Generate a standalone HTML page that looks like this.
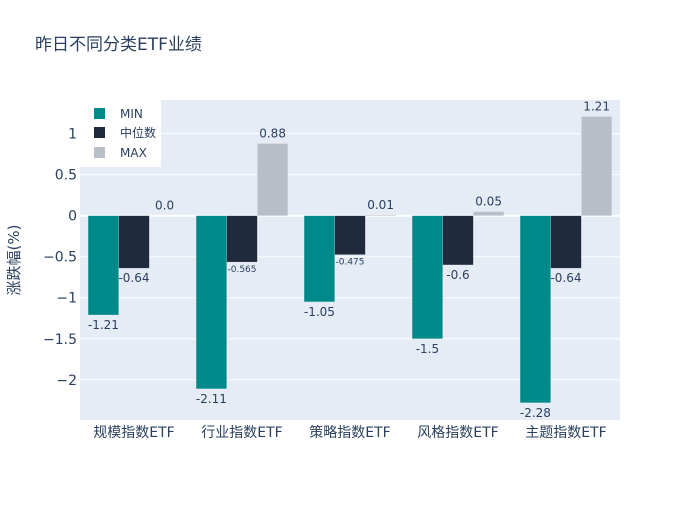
<!DOCTYPE html>
<html><head><meta charset="utf-8"><style>
body{margin:0;background:#fff;font-family:"Liberation Sans","Noto Sans CJK SC",sans-serif;}
svg text{font-family:"DejaVu Sans","Liberation Sans","Noto Sans CJK SC",sans-serif;fill:#2a3f5f;}
</style></head><body>
<svg id="c" width="700" height="500">
<text x="35" y="50" font-size="17">昨日不同分类ETF业绩</text>
<rect x="80" y="100" width="540" height="320" fill="#e5ecf6"/>
<g id="grid"></g><g id="bars"></g><g id="labels"></g>
<text transform="translate(19,260) rotate(-90)" text-anchor="middle" font-size="15">涨跌幅(%)</text>
<g>
<rect x="80" y="100" width="81" height="67" fill="#fff"/>
<rect x="94" y="108" width="11" height="11" fill="#00898a"/>
<text x="120" y="118" font-size="12">MIN</text>
<rect x="94" y="127" width="11" height="11" fill="#1f2a3c"/>
<text x="120" y="137" font-size="12">中位数</text>
<rect x="94" y="147" width="11" height="11" fill="#b8bfc8"/>
<text x="120" y="157" font-size="12">MAX</text>
</g>
</svg>
<script>
const categories=["规模指数ETF","行业指数ETF","策略指数ETF","风格指数ETF","主题指数ETF"];
const minVals=[-1.21,-2.11,-1.05,-1.5,-2.28];
const medVals=[-0.64,-0.565,-0.475,-0.6,-0.64];
const maxVals=[0.0,0.88,0.01,0.05,1.21];
const yTicks=[-2,-1.5,-1,-0.5,0,0.5,1];
const yTickLabels=["−2","−1.5","−1","−0.5","0","0.5","1"];
const seriesNames=["min","median","max"];
const seriesColors=["#00898a","#1f2a3c","#b8bfc8"];
const NS="http://www.w3.org/2000/svg";
const X0=80,W=540,Y0=100,H=320,yMin=-2.49,yMax=1.41;
const y=v=>Y0+(yMax-v)/(yMax-yMin)*H;
const band=W/categories.length;
const xc=i=>X0+band*(i+0.5);
function mk(t,a,p){const e=document.createElementNS(NS,t);for(const k in a)e.setAttribute(k,a[k]);p.appendChild(e);return e;}
const g=document.getElementById('grid'),b=document.getElementById('bars'),l=document.getElementById('labels'),svg=document.getElementById('c');
yTicks.forEach((t,i)=>{
 const ln=mk('line',{x1:X0,x2:X0+W,y1:y(t),y2:y(t),stroke:'#fff','stroke-width':t===0?2:1},g);
 
 
 const tx=mk('text',{x:X0-3,y:y(t)+5,'text-anchor':'end','font-size':14},svg);
 tx.textContent=yTickLabels[i];
 
 
});
const bw=band*0.85/3;
[minVals,medVals,maxVals].forEach((vals,s)=>{
 vals.forEach((v,i)=>{
  const x=xc(i)-bw*1.5+bw*s;
  const top=Math.min(y(v),y(0)),h=Math.max(Math.abs(y(v)-y(0)),0.01);
  const r=mk('rect',{x:x,y:top,width:bw,height:h,fill:seriesColors[s],stroke:'rgba(255,255,255,0.4)','stroke-width':0.5},b);
  
  
  const small=(s===1&&String(v).length>5);
  const ty=v>=0?y(v)-6:y(v)+(small?10:14);
  const t=mk('text',{x:x+bw/2,y:ty,'text-anchor':'middle','font-size':small?9:12},l);
  t.textContent=(v===0?"0.0":String(v));
  
  
 });
});
categories.forEach((c,i)=>{
 const t=mk('text',{x:xc(i),y:437,'text-anchor':'middle','font-size':14},svg);
 t.textContent=c;
 
 
});
</script>
</body></html>
